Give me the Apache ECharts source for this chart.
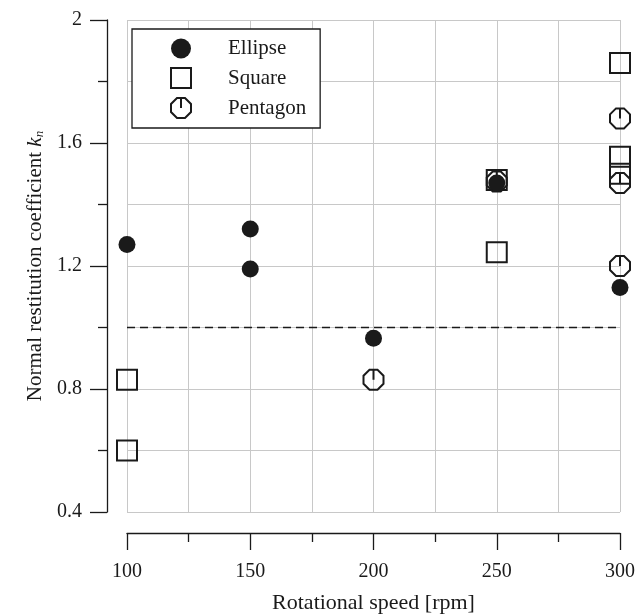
<!DOCTYPE html>
<html>
<head>
<meta charset="utf-8">
<script src="https://cdn.jsdelivr.net/npm/echarts@6/dist/echarts.min.js"></script>
<style>
  html, body { margin: 0; padding: 0; background: #fff; }
  #chart { width: 637px; height: 614px; }
</style>
</head>
<body>
<div id="chart"></div>
<script>
// rotational speed [rpm], restitution coefficient k_n
const ellipse = [[100, 1.27], [150, 1.32], [150, 1.19], [200, 0.965], [250, 1.47], [300, 1.13]];
const square = [[100, 0.83], [100, 0.6], [250, 1.48], [250, 1.245], [300, 1.86], [300, 1.555], [300, 1.5]];
const pentagon = [[200, 0.83], [250, 1.475], [300, 1.68], [300, 1.47], [300, 1.2]];
const reference = [[100, 1.0], [300, 1.0]];
const seriesNames = ['Ellipse', 'Square', 'Pentagon'];

const ink = '#1a1a1a';
const gridColor = '#c8c8c8';
const font = 'Liberation Serif';
const pentagonPath = 'path://M6 0L14 0L20 6L20 14L14 20L6 20L0 14L0 6ZM10 0L10 10';

const chart = echarts.init(document.getElementById('chart'));
chart.setOption({
  animation: false,
  backgroundColor: '#fff',
  textStyle: { fontFamily: font, color: ink },
  grid: { left: 127, right: 17, top: 20, bottom: 102, containLabel: false, outerBoundsMode: 'none' },
  legend: {
    data: seriesNames,
    orient: 'vertical',
    left: 132,
    top: 29,
    padding: [9, 14, 9, 38],
    itemGap: 8,
    itemWidth: 20,
    itemHeight: 20,
    borderColor: ink,
    borderWidth: 1.3,
    backgroundColor: '#fff',
    textStyle: { fontFamily: font, fontSize: 21, color: ink, padding: [0, 0, 0, 32] },
  },
  xAxis: {
    type: 'value',
    min: 100,
    max: 300,
    interval: 50,
    offset: 21,
    name: 'Rotational speed [rpm]',
    nameLocation: 'middle',
    nameGap: 59,
    nameTextStyle: { fontFamily: font, fontSize: 22, color: ink },
    axisLine: { show: true, lineStyle: { color: ink, width: 1.3 } },
    axisTick: { show: true, length: 17, lineStyle: { color: ink, width: 1.3 } },
    minorTick: { show: true, splitNumber: 2, length: 9, lineStyle: { color: ink, width: 1.3 } },
    axisLabel: { margin: 29, fontFamily: font, fontSize: 20, color: ink },
    splitLine: { show: true, lineStyle: { color: gridColor, width: 1 } },
    minorSplitLine: { show: true, lineStyle: { color: gridColor, width: 1 } },
  },
  yAxis: {
    type: 'value',
    min: 0.4,
    max: 2,
    interval: 0.4,
    offset: 20,
    name: '{t|Normal restitution coefficient }{k|k}{n|n}',
    nameLocation: 'middle',
    nameGap: 58,
    nameTextStyle: {
      fontFamily: font,
      fontSize: 21,
      color: ink,
      rich: {
        t: { fontFamily: font, fontSize: 21, color: ink },
        k: { fontFamily: font, fontSize: 21, fontStyle: 'italic', color: ink },
        n: { fontFamily: font, fontSize: 13, fontStyle: 'italic', color: ink, verticalAlign: 'bottom', padding: [6, 0, 0, 0] },
      },
    },
    axisLine: { show: true, lineStyle: { color: ink, width: 1.3 } },
    axisTick: { show: true, length: 17, lineStyle: { color: ink, width: 1.3 } },
    minorTick: { show: true, splitNumber: 2, length: 9, lineStyle: { color: ink, width: 1.3 } },
    axisLabel: { margin: 25, fontFamily: font, fontSize: 20, color: ink },
    splitLine: { show: true, lineStyle: { color: gridColor, width: 1 } },
    minorSplitLine: { show: true, lineStyle: { color: gridColor, width: 1 } },
  },
  series: [
    {
      name: 'reference',
      type: 'line',
      data: reference,
      symbol: 'none',
      silent: true,
      lineStyle: { color: ink, width: 1.6, type: [8, 5] },
      z: 1,
    },
    {
      name: 'Ellipse',
      type: 'scatter',
      data: ellipse,
      symbol: 'circle',
      symbolSize: 17,
      clip: false,
      itemStyle: { color: ink, opacity: 1 },
      z: 3,
    },
    {
      name: 'Square',
      type: 'scatter',
      data: square,
      symbol: 'rect',
      symbolSize: 20,
      clip: false,
      itemStyle: { color: 'rgba(0,0,0,0)', borderColor: ink, borderWidth: 2, opacity: 1 },
      z: 2,
    },
    {
      name: 'Pentagon',
      type: 'scatter',
      data: pentagon,
      symbol: pentagonPath,
      symbolSize: 20,
      clip: false,
      itemStyle: { color: 'rgba(0,0,0,0)', borderColor: ink, borderWidth: 2, opacity: 1 },
      z: 2,
    },
  ],
});
</script>
</body>
</html>
